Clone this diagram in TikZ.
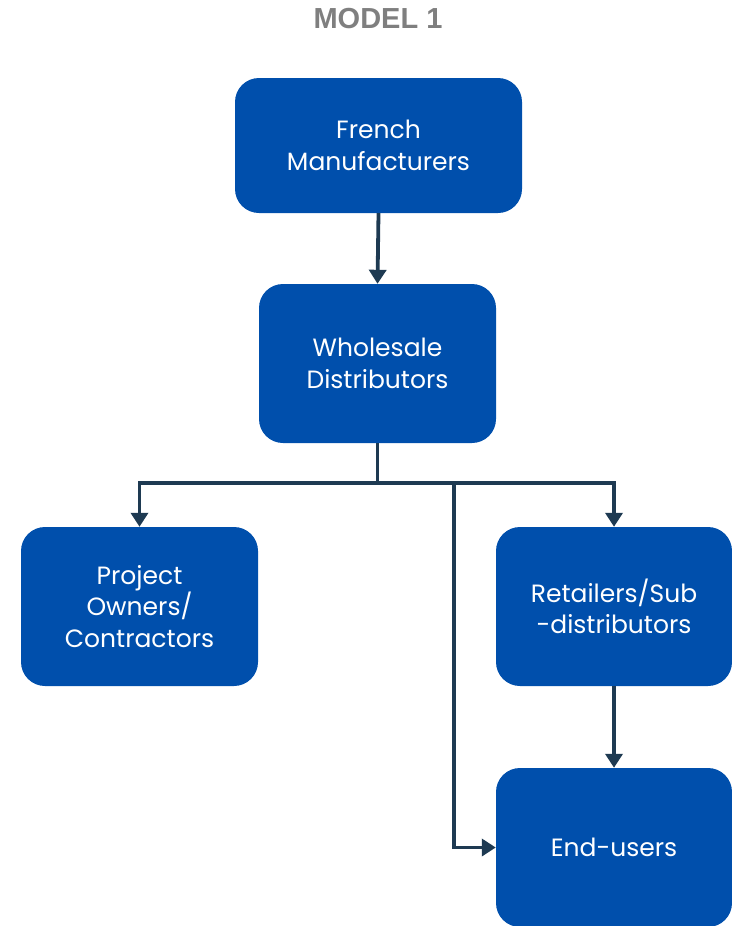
\documentclass[tikz,border=0pt]{standalone}
\usepackage{fontspec}
\setmainfont{Poppins}
\newfontfamily\titlefont{Liberation Sans}
\usetikzlibrary{arrows.meta}
\definecolor{boxblue}{HTML}{004FAC}
\definecolor{linkdark}{HTML}{1E3A52}
\definecolor{titlegray}{HTML}{7F7F7F}
\begin{document}
\begin{tikzpicture}[x=1pt,y=-1pt,
  block/.style={fill=boxblue, rounded corners=24pt, text=white, align=center,
    font=\fontsize{25}{31.5}\selectfont, inner sep=0pt},
  link/.style={draw=linkdark, line width=3.8pt,
    -{Triangle[length=14pt,width=17pt]}},
  joint/.style={draw=linkdark, line width=3.8pt}]
\useasboundingbox (0,0) rectangle (731,926);
\node[font=\titlefont\bfseries\fontsize{29}{34}\selectfont, text=titlegray] (title) at (378,19) {MODEL 1};
\node[block, minimum width=287pt, minimum height=135pt] (fm) at (378.5,145.5) {French\\Manufacturers};
\node[block, minimum width=237pt, minimum height=159pt] (wd) at (377.5,363.5) {Wholesale\\Distributors};
\node[block, minimum width=237pt, minimum height=159pt] (po) at (139.5,606.5) {Project\\Owners/\\Contractors};
\node[block, minimum width=236pt, minimum height=159pt] (rs) at (614,606.5) {Retailers/Sub\\-distributors};
\node[block, minimum width=236pt, minimum height=159pt] (eu) at (614,847.5) {End-users};
\coordinate (split) at (377.5,483);
\coordinate (drop) at (454,483);
\draw[link] (fm.south) -- (wd.north);
\draw[joint] (wd.south) -- (split);
\draw[link] (split) -| (po.north);
\draw[link] (split) -| (rs.north);
\draw[link] (drop) |- (eu.west);
\draw[link] (rs.south) -- (eu.north);
\end{tikzpicture}
\end{document}
